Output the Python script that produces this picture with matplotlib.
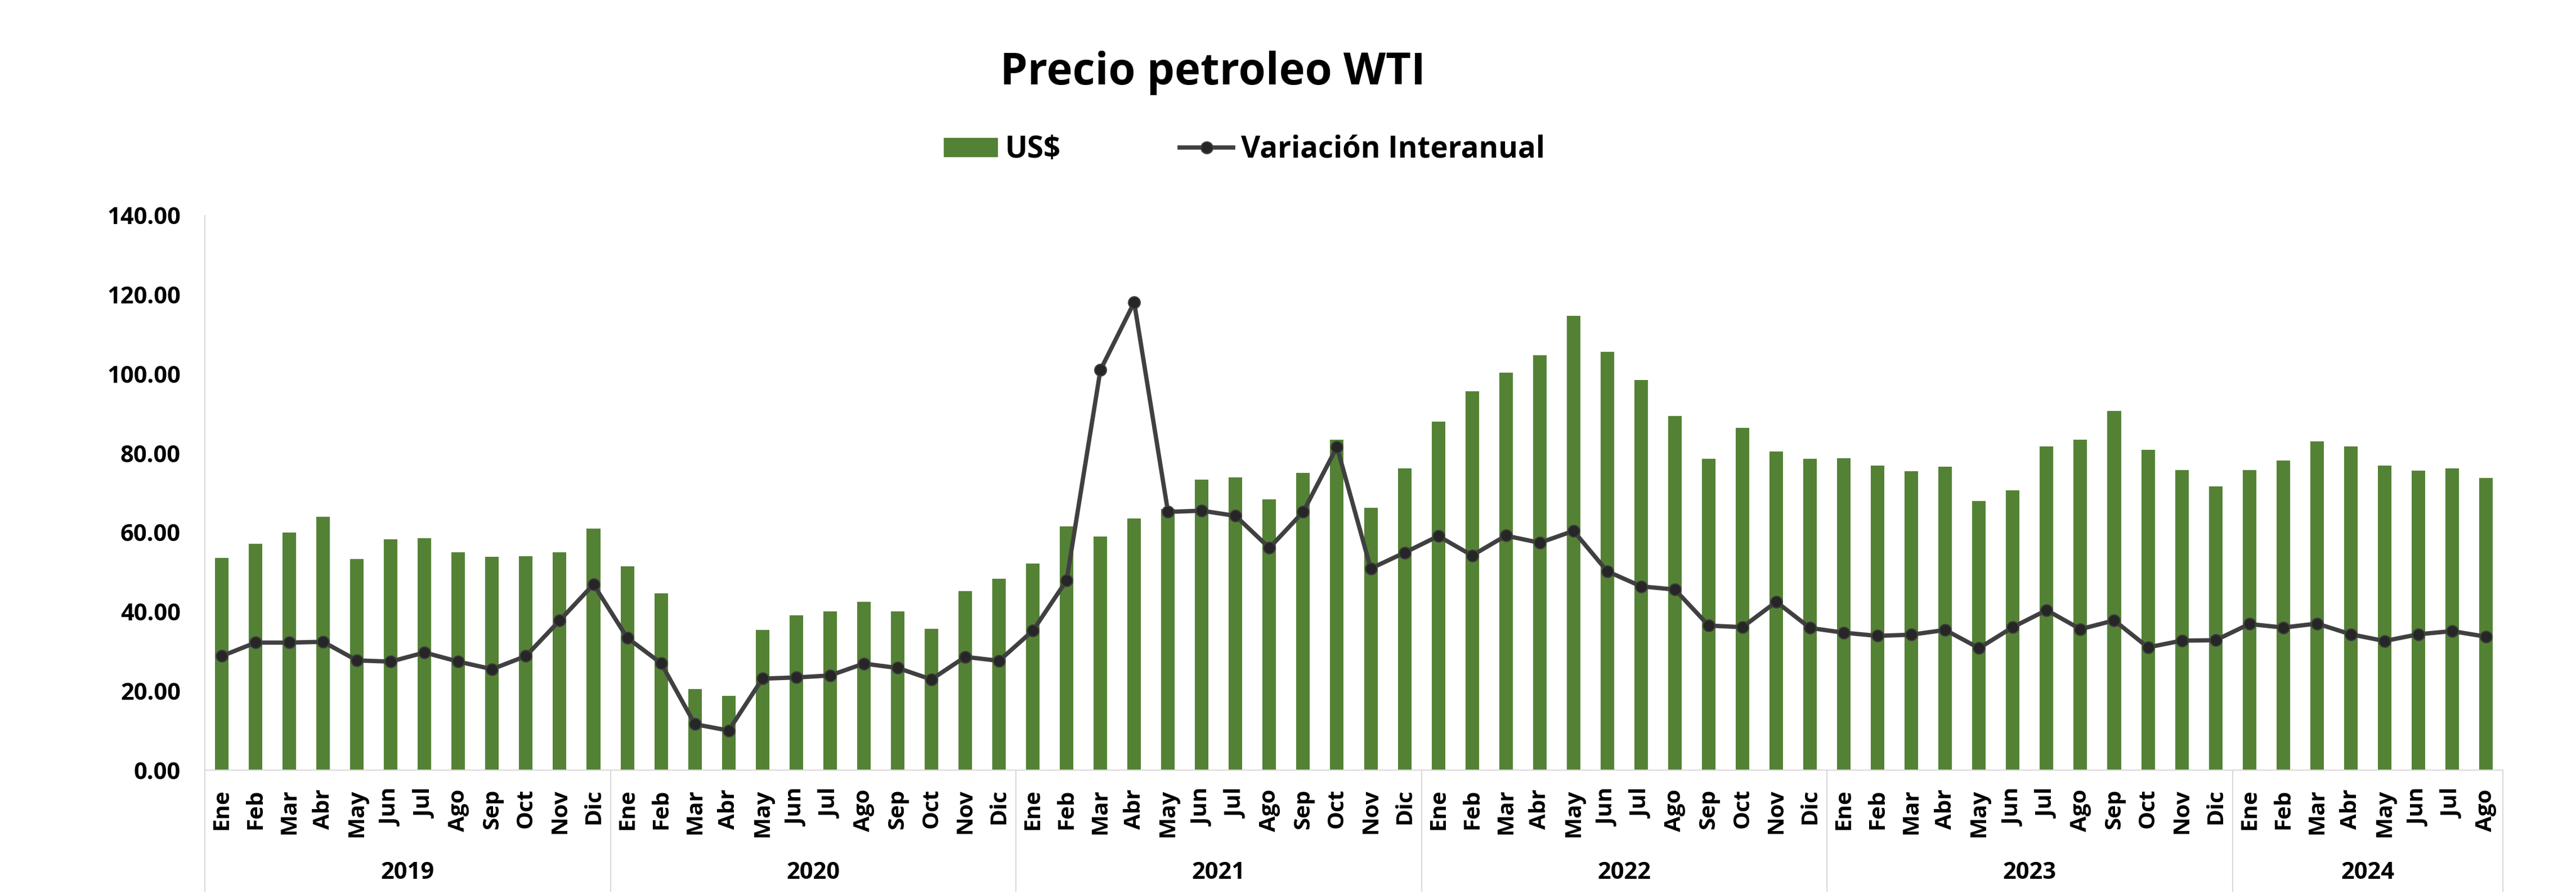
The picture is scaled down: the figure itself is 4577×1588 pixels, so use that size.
import matplotlib
matplotlib.use('Agg')
import matplotlib.pyplot as plt
from matplotlib.lines import Line2D
from matplotlib.patches import Patch
from matplotlib.ticker import FormatStrFormatter

# months and years on the two-level category axis
months = ['Ene', 'Feb', 'Mar', 'Abr', 'May', 'Jun',
          'Jul', 'Ago', 'Sep', 'Oct', 'Nov', 'Dic']
years = ['2019', '2020', '2021', '2022', '2023', '2024']
months_per_year = [12, 12, 12, 12, 12, 8]

# monthly WTI price, US$
precio_usd = [
    53.6, 57.2, 60.0, 63.9, 53.3, 58.3, 58.5, 55.0, 53.9, 54.0, 55.0, 61.0,
    51.5, 44.6, 20.4, 18.7, 35.4, 39.1, 40.1, 42.5, 40.1, 35.7, 45.2, 48.3,
    52.1, 61.5, 59.0, 63.5, 66.0, 73.4, 73.9, 68.4, 75.0, 83.5, 66.2, 76.2,
    88.0, 95.7, 100.3, 104.7, 114.7, 105.6, 98.5, 89.4, 78.6, 86.4, 80.4, 78.6,
    78.8, 76.9, 75.5, 76.6, 68.0, 70.6, 81.7, 83.5, 90.7, 80.9, 75.8, 71.6,
    75.8, 78.2, 83.0, 81.7, 76.9, 75.6, 76.2, 73.7,
]

# year-on-year variation
variacion = [
    28.8, 32.2, 32.2, 32.4, 27.7, 27.4, 29.7, 27.4, 25.5, 28.8, 37.8, 46.9,
    33.4, 27.0, 11.6, 10.0, 23.1, 23.4, 23.9, 26.9, 25.8, 22.9, 28.6, 27.6,
    35.2, 47.9, 101.0, 118.1, 65.2, 65.5, 64.2, 56.1, 65.2, 81.6, 50.9, 54.9,
    59.1, 54.2, 59.2, 57.4, 60.4, 50.2, 46.4, 45.6, 36.5, 36.1, 42.5, 35.9,
    34.7, 33.9, 34.2, 35.4, 30.8, 36.1, 40.4, 35.6, 37.8, 31.0, 32.7, 32.8,
    36.9, 36.0, 37.0, 34.3, 32.6, 34.3, 35.1, 33.7,
]

GREEN = '#548235'
LINE = '#404040'
GRID = '#D9D9D9'

plt.rcParams['font.family'] = ['Open Sans', 'DejaVu Sans']
plt.rcParams['font.weight'] = 'bold'

W, H = 4577, 1588
fig = plt.figure(figsize=(W / 100, H / 100), dpi=100)
ax = fig.add_axes([364 / W, 220 / H, (4447 - 364) / W, (1368 - 383) / H])

labels = []
for y, n in zip(years, months_per_year):
    labels += months[:n]
x = list(range(len(labels)))

ax.bar(x, precio_usd, width=0.4, color=GREEN, zorder=2)
ax.plot(x, variacion, color=LINE, lw=5.5, marker='o', ms=15,
        mfc='#262626', mec=LINE, mew=1.5, zorder=3)

ax.set_xlim(-0.5, len(labels) - 0.5)
ax.set_ylim(0, 140)
ax.set_yticks(range(0, 141, 20))
ax.yaxis.set_major_formatter(FormatStrFormatter('%.2f'))
ax.set_xticks(x)
ax.set_xticklabels(labels, rotation=90, fontsize=29, fontweight='bold')
ax.tick_params(axis='x', length=0, pad=24)
ax.tick_params(axis='y', length=0, pad=31, labelsize=30)
for t in ax.get_yticklabels():
    t.set_fontweight('bold')

for s in ['top', 'right']:
    ax.spines[s].set_visible(False)
for s in ['left', 'bottom']:
    ax.spines[s].set_color(GRID)
    ax.spines[s].set_linewidth(1.5)

# year groups: separators and labels below month labels
trans = ax.get_xaxis_transform()
bounds = [0]
for n in months_per_year:
    bounds.append(bounds[-1] + n)
for b in bounds:
    ax.plot([b - 0.5, b - 0.5], [0, -0.218], color=GRID, lw=1.5,
            transform=trans, clip_on=False)
for y, a, b in zip(years, bounds[:-1], bounds[1:]):
    ax.text((a + b - 1) / 2, -0.185, y, transform=trans, ha='center',
            va='center', fontsize=30, fontweight='bold')

fig.text(2155 / W, 1 - 150 / H, 'Precio petroleo WTI', ha='center',
         va='baseline', fontsize=56, fontweight='bold')

handles = [Patch(color=GREEN),
           Line2D([], [], color=LINE, lw=5.5, marker='o', ms=15,
                  mfc='#262626', mec=LINE, mew=1.5)]
fig.legend(handles, ['US$', 'Variación Interanual'], loc='center',
           bbox_to_anchor=(2211 / W, 1 - 266 / H), ncol=2, frameon=False,
           prop={'family': ['Open Sans', 'DejaVu Sans'], 'weight': 'bold',
                 'size': 38},
           handlelength=1.8, handleheight=0.6, handletextpad=0.27,
           columnspacing=4.0)

fig.savefig('out.png', dpi=100)
